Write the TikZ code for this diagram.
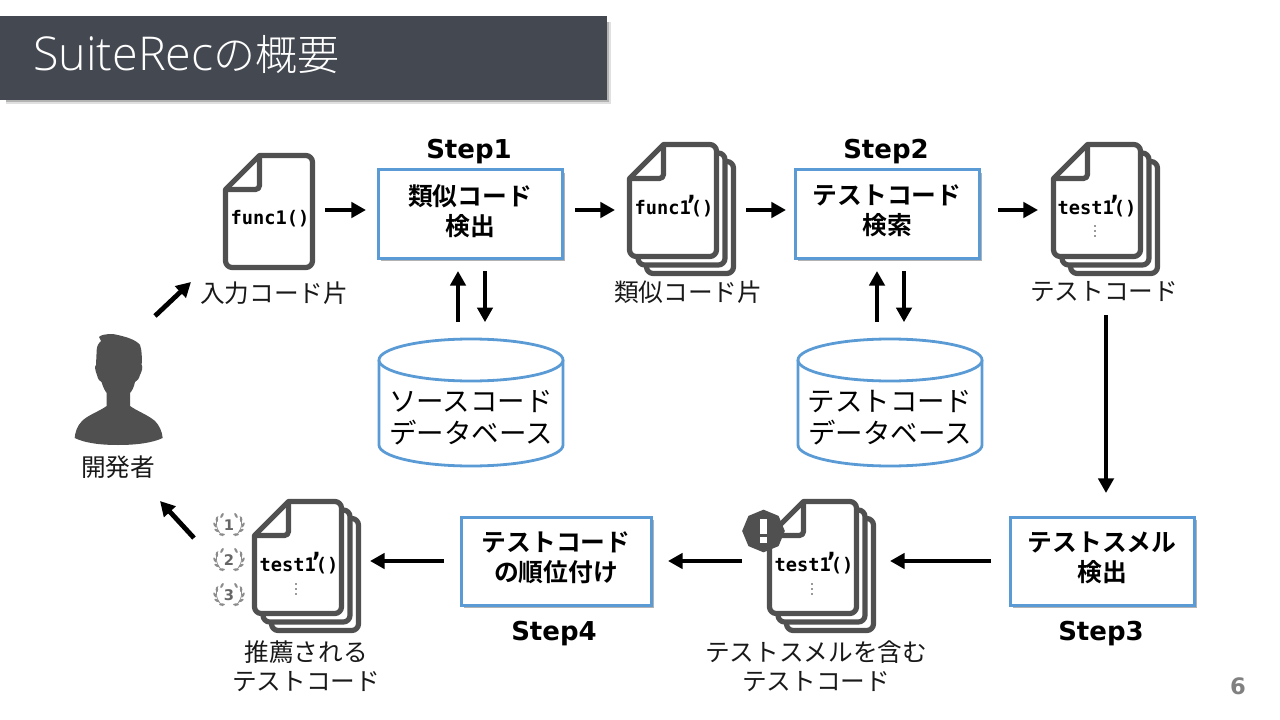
\documentclass[tikz,border=0pt]{standalone}
\usepackage{fontspec}
\usetikzlibrary{arrows.meta,calc,shadows,shapes.geometric}
\newfontfamily\jp[BoldFont={Noto Sans CJK JP Bold}]{Noto Sans CJK JP}
\newfontfamily\jplight{Noto Sans CJK JP Light}
\newfontfamily\latlight{Open Sans Light}
\newfontfamily\lat[BoldFont={DejaVu Sans Bold}]{DejaVu Sans}
\newfontfamily\monof{DejaVu Sans Mono}
\definecolor{titlebg}{HTML}{444851}
\definecolor{blueline}{HTML}{5B9BD5}
\definecolor{docgray}{HTML}{505050}
\definecolor{rankgray}{HTML}{8C8C8C}
\tikzset{
  stepbox/.style={draw=blueline,line width=2.25pt,fill=white,minimum height=66pt,outer sep=0pt,align=center,inner sep=0pt,text depth=6pt,
    font=\jp\bfseries\fontsize{18.6pt}{22.5pt}\selectfont,
    drop shadow={shadow xshift=2pt,shadow yshift=-2pt,fill=black,opacity=.3}},
  steplabel/.style={font=\lat\bfseries\fontsize{19.5pt}{24pt}\selectfont,inner sep=0pt},
  lbl/.style={font=\jp\fontsize{18.5pt}{21.75pt}\selectfont,align=center,inner sep=0pt,text=black!90},
  dbtext/.style={font=\jp\fontsize{20.6pt}{24pt}\selectfont,align=center,inner sep=0pt,minimum width=138pt,minimum height=95pt,outer sep=0pt},
  dbline/.style={draw=blueline,line width=2.1pt,fill=white},
  arr/.style={line width=3.6pt,black,-{Triangle[length=11pt,width=11.5pt]}},
  docline/.style={draw=docgray,line width=3.9pt,fill=white,line join=round},
  docref/.style={minimum width=69pt,minimum height=87.75pt,inner sep=0pt,outer sep=0pt},
  code/.style={font=\monof\bfseries\fontsize{14pt}{16pt}\selectfont,inner sep=0pt},
}
\newcommand\docoutline[2]{%
  \draw[docline] (#1+2.5,#2+36.5) -- (#1+36.5,#2+2.5) [rounded corners=5pt] -- (#1+89.5,#2+2.5) -- (#1+89.5,#2+114.5) -- (#1+2.5,#2+114.5) [sharp corners] -- cycle;
}
\newcommand\docpage[2]{%
  \docoutline{#1}{#2}%
  \draw[docline,fill=none,rounded corners=3pt] (#1+36.5,#2+2.5) -- (#1+36.5,#2+36.5) -- (#1+2.5,#2+36.5);
}
\newcommand\stackdoc[3]{%
  \docoutline{#2+17}{#3+17}\docoutline{#2+8.5}{#3+8.5}\docpage{#2}{#3}%
  \node[docref] (#1) at (#2+46,#3+58.5) {};
}
\newcommand\dotcol[2]{%
  \foreach \d in {-5,0,5} \fill[black!80] (#1,#2+\d) circle[radius=0.85];
}
\newcommand\primecode[1]{#1\kern-0.41em{\fontsize{19pt}{16pt}\selectfont\smash{’}}\kern-0.41em()}
\newcommand\laurel[3]{%
  \foreach \a in {-60,-30,0,30,60} {
    \fill[rankgray,rotate around={{\a+30}:({#1-14*cos(\a)},{#2+11*sin(\a)})}] ({#1-14*cos(\a)},{#2+11*sin(\a)}) ellipse[x radius=1.2,y radius=2.8];
    \fill[rankgray,rotate around={{-\a-30}:({#1+14*cos(\a)},{#2+11*sin(\a)})}] ({#1+14*cos(\a)},{#2+11*sin(\a)}) ellipse[x radius=1.2,y radius=2.8];
  }
  \draw[rankgray,line width=.5pt] (#1-11,#2-9) .. controls (#1-14,#2-3) and (#1-13,#2+6) .. (#1-6,#2+11);
  \draw[rankgray,line width=.5pt] (#1+11,#2-9) .. controls (#1+14,#2-3) and (#1+13,#2+6) .. (#1+6,#2+11);
  \node[inner sep=0pt,text=black!60,font=\lat\bfseries\fontsize{11pt}{12pt}\selectfont] (rank#3) at (#1,#2) {#3};
}
\begin{document}
\begin{tikzpicture}[x=0.75pt,y=-0.75pt]
\useasboundingbox (0,0) rectangle (1280,720);
\fill[white] (0,0) rectangle (1280,720);
% title bar
\fill[black,opacity=.12] (6,22) rectangle (611,104);
\fill[black,opacity=.2] (6,22) rectangle (609,102);
\node[fill=titlebg,minimum width=455.25pt,minimum height=63pt,inner sep=0pt,outer sep=0pt] (titlebar) at (303.5,58) {};
\node[anchor=base west,inner sep=0pt,text=white,font=\jplight\fontsize{31.5pt}{36pt}\selectfont] (title) at (33,71) {{\latlight\fontsize{35pt}{36pt}\selectfont SuiteRec}の概要};
% documents
\docpage{223}{153}
\node[docref] (doc1) at (269,211.5) {};
\node[code] (doc1t) at (270,219) {func1()};
\stackdoc{doc2}{627}{142}
\node[code] (doc2t) at (674,209) {\primecode{func1}};
\stackdoc{doc3}{1051}{142}
\node[code] (doc3t) at (1097,209) {\primecode{test1}};
\dotcol{1095}{231}
\stackdoc{doc4}{767}{499}
\node[code] (doc4t) at (814,566) {\primecode{test1}};
\dotcol{812}{589}
\stackdoc{doc5}{252}{499}
\node[code] (doc5t) at (299,566) {\primecode{test1}};
\dotcol{296}{589}
% warning badge
\node[regular polygon,regular polygon sides=8,fill=docgray,minimum size=32pt,inner sep=0pt,shape border rotate=22.5] (warn) at (763.5,531) {};
\fill[white] (760,519) rectangle (766.5,533.5);
\fill[white] (760,537) rectangle (766.5,542.5);
% ranks
\laurel{229}{525}{1}
\laurel{229}{560}{2}
\laurel{229}{595}{3}
% process boxes
\node[stepbox,minimum width=138pt] (box1) at (470,214) {類似コード\\検出};
\node[stepbox,minimum width=138pt] (box2) at (887,214) {テストコード\\検索};
\node[stepbox,minimum width=138pt] (box3) at (1102,561) {テストスメル\\検出};
\node[stepbox,minimum width=142.5pt] (box4) at (556,561) {テストコード\\の順位付け};
\node[steplabel] (step1) at (469,152) {Step1};
\node[steplabel] (step2) at (886,152) {Step2};
\node[steplabel] (step3) at (1101,634) {Step3};
\node[steplabel] (step4) at (554,634) {Step4};
% databases
\draw[dbline] (379,360) -- (379,445) arc[start angle=180,end angle=0,x radius=92,y radius=21] -- (563,360);
\draw[dbline] (471,360) ellipse[x radius=92,y radius=21];
\node[dbtext] (db1) at (471,417.5) {ソースコード\\データベース};
\draw[dbline] (798,360) -- (798,445) arc[start angle=180,end angle=0,x radius=92,y radius=21] -- (982,360);
\draw[dbline] (890,360) ellipse[x radius=92,y radius=21];
\node[dbtext] (db2) at (890,417.5) {テストコード\\データベース};
% user
\fill[docgray] (113,334) .. controls (105,334) and (101,335) .. (99,337) -- (101,341) .. controls (98,344) and (97,346) .. (96.7,350) -- (96,365) .. controls (94.5,366) and (95,370) .. (97,375) .. controls (98,380) and (100,381) .. (101.5,382) .. controls (103,387) and (105,391) .. (106.7,393) -- (106.7,406) .. controls (100,411) and (88,415) .. (82,421) .. controls (77,426) and (75,433) .. (74.7,438) .. controls (85,443) and (100,445) .. (118,445) .. controls (136,445) and (152,443) .. (162.7,438) .. controls (162,431) and (159,425) .. (155,421) .. controls (148,415) and (137,411) .. (130,406) -- (130,393) .. controls (132,391) and (134,387) .. (135,382) .. controls (137,381) and (139,379) .. (140,375) .. controls (142,371) and (143,367) .. (141.7,365) .. controls (142,358) and (142,350) .. (140,345) .. controls (136,340) and (128,337) .. (113,334) -- cycle;
\node[minimum width=66pt,minimum height=82.5pt,inner sep=0pt,outer sep=0pt] (user) at (118,390) {};
% labels
\node[lbl] (lab1) at (274,293) {入力コード片};
\node[lbl] (lab2) at (688,292) {類似コード片};
\node[lbl] (lab3) at (1104,292) {テストコード};
\node[lbl] (lab4) at (816,666.5) {テストスメルを含む\\テストコード};
\node[lbl] (lab5) at (306,666.5) {推薦される\\テストコード};
\node[lbl] (lab6) at (118,467) {開発者};
\node[inner sep=0pt,text=black!50,font=\lat\bfseries\fontsize{17pt}{20pt}\selectfont] (pageno) at (1238,686) {6};
% connectors
\draw[arr] ($(doc1.east)+(10,-1.5)$) -- ($(box1.west)+(-12,-4)$);
\draw[arr] ($(box1.east)+(13,-4)$) -- ($(doc2.west)+(-12,9.5)$);
\draw[arr] ($(doc2.east)+(27,9.5)$) -- ($(box2.west)+(-9,-4)$);
\draw[arr] ($(box2.east)+(19,-4)$) -- ($(doc3.west)+(-13,9.5)$);
\draw[arr] ($(db1.north)+(-13,-32)$) -- ($(box1.south)+(-12,13)$);
\draw[arr] ($(box1.south)+(15,13)$) -- ($(db1.north)+(14,-32)$);
\draw[arr] ($(db2.north)+(-13,-32)$) -- ($(box2.south)+(-10,13)$);
\draw[arr] ($(box2.south)+(17,13)$) -- ($(db2.north)+(14,-32)$);
\draw[arr] ($(doc3.south)+(9,56)$) -- ($(box3.north)+(4,-24)$);
\draw[arr] ($(box3.west)+(-19,0)$) -- ($(doc4.east)+(31,3.5)$);
\draw[arr] ($(doc4.west)+(-25,3.5)$) -- ($(box4.east)+(17,0)$);
\draw[arr] ($(box4.west)+(-17,0)$) -- ($(doc5.east)+(26,3.5)$);
\draw[arr] ($(user.north)+(37,-19)$) -- ($(doc1.west)+(-32,70.5)$);
\draw[arr] ($(doc5.west)+(-58,-19.5)$) -- ($(user.south)+(42,56)$);
\end{tikzpicture}
\end{document}
